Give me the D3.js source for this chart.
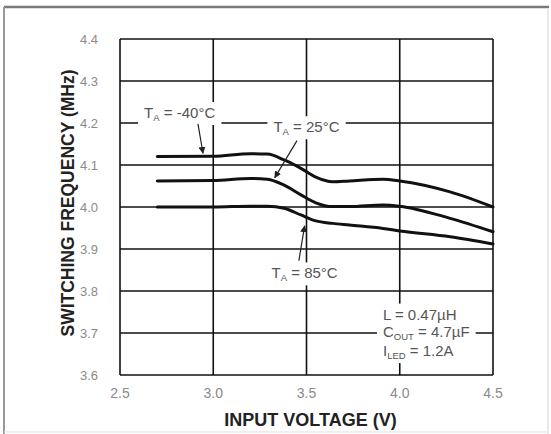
<!DOCTYPE html>
<html>
<head>
<meta charset="utf-8">
<script src="https://cdn.jsdelivr.net/npm/d3@7"></script>
<style>
  body { margin: 0; background: #fff; }
  svg { display: block; font-family: "Liberation Sans", Arial, sans-serif; }
</style>
</head>
<body>
<div id="chart"></div>
<script>
// Input voltage points (V)
const voltage = [2.7, 3.0, 3.2, 3.29, 3.38, 3.47, 3.55, 3.64, 3.73, 3.91, 4.0, 4.27, 4.5];
// Switching frequency (MHz) per ambient temperature
const freqM40 = [4.12, 4.121, 4.127, 4.126, 4.112, 4.092, 4.071, 4.06, 4.062, 4.066, 4.062, 4.036, 4.0];
const freq25 = [4.062, 4.063, 4.068, 4.066, 4.052, 4.029, 4.01, 4.001, 4.001, 4.005, 4.002, 3.973, 3.941];
const freq85 = [4.0, 4.0, 4.002, 4.002, 3.997, 3.981, 3.967, 3.961, 3.957, 3.949, 3.943, 3.929, 3.912];
const xTicks = [2.5, 3.0, 3.5, 4.0, 4.5];
const yTicks = [3.6, 3.7, 3.8, 3.9, 4.0, 4.1, 4.2, 4.3, 4.4];

const width = 551;
const height = 434;
const margin = { top: 39, right: 58, bottom: 59, left: 120 };

const svg = d3
  .select("#chart")
  .append("svg")
  .attr("width", width)
  .attr("height", height);

// Scanned page frame
svg.append("line").attr("x1", 4).attr("x2", 549).attr("y1", 7).attr("y2", 7)
  .attr("stroke", "#7a7a7a").attr("stroke-width", 2.5);
svg.append("line").attr("x1", 4).attr("x2", 4).attr("y1", 7).attr("y2", 434)
  .attr("stroke", "#999").attr("stroke-width", 2);
svg.append("line").attr("x1", 548).attr("x2", 548).attr("y1", 8).attr("y2", 434)
  .attr("stroke", "#e2e2e2").attr("stroke-width", 1.5);
svg.append("line").attr("x1", 4).attr("x2", 548).attr("y1", 432).attr("y2", 432)
  .attr("stroke", "#e8e8e8").attr("stroke-width", 1.5);

const x = d3.scaleLinear().domain([2.5, 4.5]).range([margin.left, width - margin.right]);
const y = d3.scaleLinear().domain([3.6, 4.4]).range([height - margin.bottom, margin.top]);

// Grid
const grid = svg.append("g");
grid.selectAll(".hgrid")
  .data(yTicks)
  .enter()
  .append("line")
  .attr("x1", x(2.5)).attr("x2", x(4.5))
  .attr("y1", (d) => y(d)).attr("y2", (d) => y(d))
  .attr("stroke", "#111").attr("stroke-width", 1.6);
grid.selectAll(".vgrid")
  .data(xTicks)
  .enter()
  .append("line")
  .attr("x1", (d) => x(d)).attr("x2", (d) => x(d))
  .attr("y1", y(3.6)).attr("y2", y(4.4))
  .attr("stroke", "#111").attr("stroke-width", 1.6);

// Curves
const line = d3.line()
  .x((d, i) => x(voltage[i]))
  .y((d) => y(d))
  .curve(d3.curveMonotoneX);

[freqM40, freq25, freq85].forEach((s) => {
  svg.append("path")
    .attr("d", line(s))
    .attr("fill", "none")
    .attr("stroke", "#111")
    .attr("stroke-width", 3)
    .attr("stroke-linecap", "round");
});

// Tick labels
svg.append("g")
  .selectAll("text")
  .data(yTicks)
  .enter()
  .append("text")
  .attr("x", x(2.5) - 22)
  .attr("y", (d) => y(d) + 5)
  .attr("text-anchor", "end")
  .attr("fill", "#8a8a8a")
  .style("font-size", "13px")
  .text((d) => d3.format(".1f")(d));

svg.append("g")
  .selectAll("text")
  .data(xTicks)
  .enter()
  .append("text")
  .attr("x", (d) => x(d))
  .attr("y", y(3.6) + 23)
  .attr("text-anchor", "middle")
  .attr("fill", "#8a8a8a")
  .style("font-size", "14px")
  .text((d) => d3.format(".1f")(d));

// Axis titles
svg.append("text")
  .attr("x", x(3.5) + 4)
  .attr("y", 426)
  .attr("text-anchor", "middle")
  .attr("fill", "#222")
  .style("font-size", "18px")
  .style("font-weight", "bold")
  .text("INPUT VOLTAGE (V)");

svg.append("text")
  .attr("transform", "translate(74, 203) rotate(-90)")
  .attr("text-anchor", "middle")
  .attr("fill", "#222")
  .style("font-size", "17.5px")
  .style("font-weight", "bold")
  .text("SWITCHING FREQUENCY (MHz)");

// Arrowhead
svg.append("defs")
  .append("marker")
  .attr("id", "arrow")
  .attr("viewBox", "0 0 10 10")
  .attr("refX", 9).attr("refY", 5)
  .attr("markerWidth", 7).attr("markerHeight", 7)
  .attr("markerUnits", "userSpaceOnUse")
  .attr("orient", "auto")
  .append("path")
  .attr("d", "M0,0 L10,5 L0,10 Z")
  .attr("fill", "#222");

// Text with white background that breaks the grid behind it
const bgLayer = svg.append("g");
const textLayer = svg.append("g");

function label(px, py, parts, anchor) {
  const t = textLayer.append("text")
    .attr("x", px).attr("y", py)
    .attr("text-anchor", anchor)
    .attr("fill", "#555")
    .style("font-size", "15px");
  parts.forEach((p) => {
    const ts = t.append("tspan").text(p.t);
    if (p.sub) ts.attr("dy", 3).style("font-size", "9.5px");
    else if (p.after) ts.attr("dy", -3);
  });
  const b = t.node().getBBox();
  bgLayer.append("rect")
    .attr("x", b.x - 6).attr("y", b.y - 2)
    .attr("width", b.width + 12).attr("height", b.height + 4)
    .attr("fill", "#fff");
}

function arrow(x1, y1, x2, y2) {
  svg.append("line")
    .attr("x1", x(x1)).attr("y1", y(y1))
    .attr("x2", x(x2)).attr("y2", y(y2))
    .attr("stroke", "#222").attr("stroke-width", 1.2)
    .attr("marker-end", "url(#arrow)");
}

label(x(2.82), y(4.212), [{ t: "T" }, { t: "A", sub: true }, { t: " = -40°C", after: true }], "middle");
arrow(2.918, 4.198, 2.945, 4.128);

label(x(3.5), y(4.178), [{ t: "T" }, { t: "A", sub: true }, { t: " = 25°C", after: true }], "middle");
arrow(3.449, 4.158, 3.33, 4.07);

label(x(3.49), y(3.83), [{ t: "T" }, { t: "A", sub: true }, { t: " = 85°C", after: true }], "middle");
arrow(3.459, 3.872, 3.49, 3.955);

label(x(3.91), y(3.732), [{ t: "L = 0.47µH" }], "start");
label(x(3.91), y(3.69), [{ t: "C" }, { t: "OUT", sub: true }, { t: " = 4.7µF", after: true }], "start");
label(x(3.91), y(3.645), [{ t: "I" }, { t: "LED", sub: true }, { t: " = 1.2A", after: true }], "start");
</script>
</body>
</html>
